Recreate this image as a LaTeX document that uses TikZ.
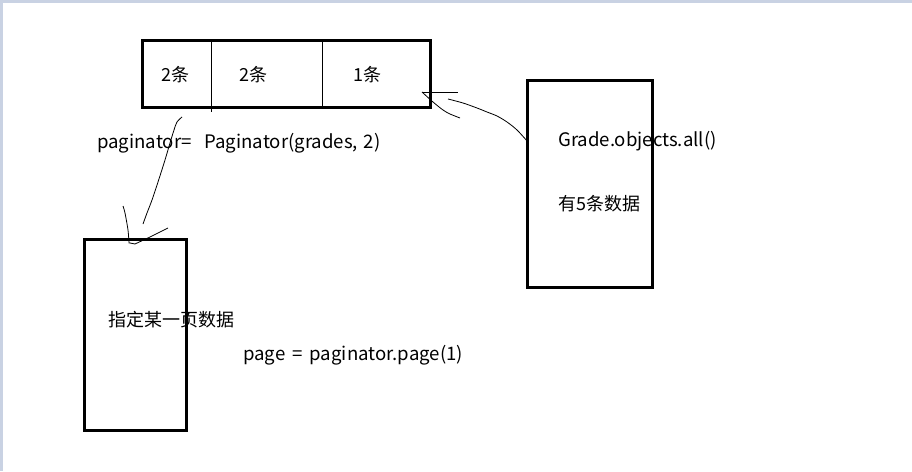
\documentclass[tikz,border=0pt]{standalone}
\usepackage{fontspec}
\setmainfont{Noto Sans CJK SC}
\definecolor{frame}{HTML}{C9D2E3}
\begin{document}
\begin{tikzpicture}[x=1pt,y=-1pt,
    box/.style={draw,line width=3pt,inner sep=0pt},
    txt/.style={anchor=base west,inner sep=0pt,font=\fontsize{18}{20}\selectfont},
    code/.style={txt,font=\fontsize{18.6}{20}\selectfont},
    hand/.style={line width=0.8pt}]
            \useasboundingbox (0,0) rectangle (912,471);
            \fill[frame] (0,0) rectangle (912,471);
            \fill[white] (3,3) rectangle (912,471);

            % Kaesten
            \node[box,minimum width=288pt,minimum height=67pt] (pages) at (286.5,74) {};
            \node[box,minimum width=125pt,minimum height=207pt] (all) at (590,184) {};
            \node[box,minimum width=102pt,minimum height=191pt] (page) at (135.5,335) {};

            % Trennlinien
            \draw[hand] (211,40) -- (211,112);
            \draw[hand] (322,40) -- (322,108);

            % Beschriftungen
            \node[txt] (c1) at (161,81) {2条};
            \node[txt] (c2) at (239,81) {2条};
            \node[txt] (c3) at (353,81) {1条};
            \node[code] (qs) at (558,146) {Grade.objects.all()};
            \node[txt] (five) at (558,210) {有5条数据};
            \node[code] (pg) at (97,148) {paginator=\hspace{13pt}Paginator(grades,\hspace{6pt}2)};
            \node[txt] (one) at (108,326) {指定某一页数据};
            \node[code] (call) at (243,360) {page\hspace{7pt}=\hspace{7pt}paginator.page(1)};

            % Pfeile
            \coordinate (tipA) at (422,92);
            \coordinate (tipB) at (130,243);
            \draw[hand] plot[smooth] coordinates {(528,142) (517,130) (507,122) (497,116) (487,112) (477,108) (463,103) (448,99)};
            \draw[hand] (tipA) -- (458,92);
            \draw[hand] plot[smooth] coordinates {(tipA) (433,102) (443,110) (450,114) (460,118)};
            \draw[hand] plot[smooth] coordinates {(182,117) (177,122) (174,130) (170,143) (165,160) (158,182) (152,200) (147,213) (143,224)};
            \draw[hand] plot[smooth] coordinates {(123,206) (125,213) (128,230) (129,243)} -- (tipB) -- (135,244) -- (150,237) -- (168,228);
        \end{tikzpicture}
\end{document}
